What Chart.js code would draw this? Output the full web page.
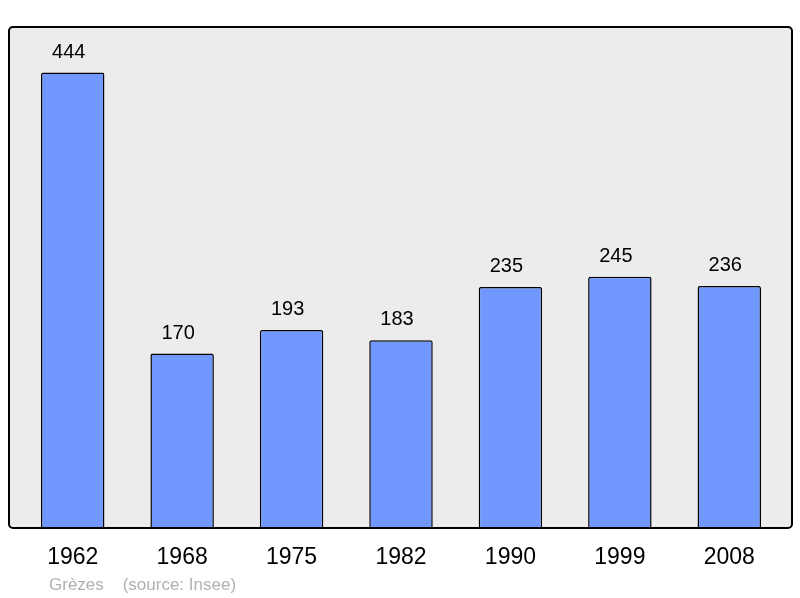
<!DOCTYPE html>
<html>
<head>
<meta charset="utf-8">
<script src="https://cdn.jsdelivr.net/npm/chart.js@4"></script>
<style>
  html, body { margin: 0; padding: 0; background: #fff; }
  #wrap { width: 800px; height: 598px; }
</style>
</head>
<body>
<div id="wrap"><canvas id="popChart" width="800" height="598"></canvas></div>
<script>
// Data
var years = ['1962', '1968', '1975', '1982', '1990', '1999', '2008'];
var population = [444, 170, 193, 183, 235, 245, 236];
var sourceText = 'Grèzes    (source: Insee)';

var fontFamily = '"Liberation Sans", Arial, sans-serif';

// Grey box behind the bars, value labels and source line
var framePlugin = {
    id: 'frame',
    beforeDatasetsDraw: function (chart) {
        var ctx = chart.ctx;
        var a = chart.chartArea;
        var x = a.left - 9, y = a.top, w = a.right - a.left + 17, h = a.bottom - a.top;
        ctx.save();
        ctx.beginPath();
        ctx.roundRect(x, y, w, h, 4);
        ctx.fillStyle = '#ececec';
        ctx.fill();
        ctx.restore();
    },
    afterDatasetsDraw: function (chart) {
        var ctx = chart.ctx;
        var a = chart.chartArea;
        var x = a.left - 9, y = a.top, w = a.right - a.left + 17, h = a.bottom - a.top;
        ctx.save();
        ctx.beginPath();
        ctx.roundRect(x, y, w, h, 4);
        ctx.lineWidth = 2;
        ctx.strokeStyle = '#000';
        ctx.stroke();

        // value labels
        ctx.fillStyle = '#000';
        ctx.font = '20px ' + fontFamily;
        ctx.textAlign = 'center';
        ctx.textBaseline = 'alphabetic';
        chart.getDatasetMeta(0).data.forEach(function (bar, i) {
            ctx.fillText(String(population[i]), bar.x - 4, bar.y - 15);
        });

        // source line
        ctx.fillStyle = '#b0b0b0';
        ctx.font = '17px ' + fontFamily;
        ctx.textAlign = 'left';
        ctx.fillText(sourceText, a.left + 31, a.bottom + 62);
        ctx.restore();
    }
};

var ctx = document.getElementById('popChart').getContext('2d');
var chart = new Chart(ctx, {
    type: 'bar',
    data: {
        labels: years,
        datasets: [{
            data: population,
            backgroundColor: '#7098ff',
            borderColor: '#000',
            borderWidth: 1.5,
            borderRadius: 2,
            borderSkipped: 'bottom',
            categoryPercentage: 1,
            barPercentage: 0.58
        }]
    },
    options: {
        responsive: false,
        animation: false,
        layout: { padding: { left: 18, right: 16, top: 27, bottom: 0 } },
        plugins: {
            legend: { display: false },
            tooltip: { enabled: false }
        },
        scales: {
            x: {
                grid: { display: false, drawTicks: false },
                border: { display: false },
                ticks: {
                    color: '#000',
                    padding: 16,
                    font: { family: fontFamily, size: 23 }
                },
                afterFit: function (scale) { scale.height = 70; }
            },
            y: {
                display: false,
                min: 0,
                max: 488.4
            }
        }
    },
    plugins: [framePlugin]
});
</script>
</body>
</html>
